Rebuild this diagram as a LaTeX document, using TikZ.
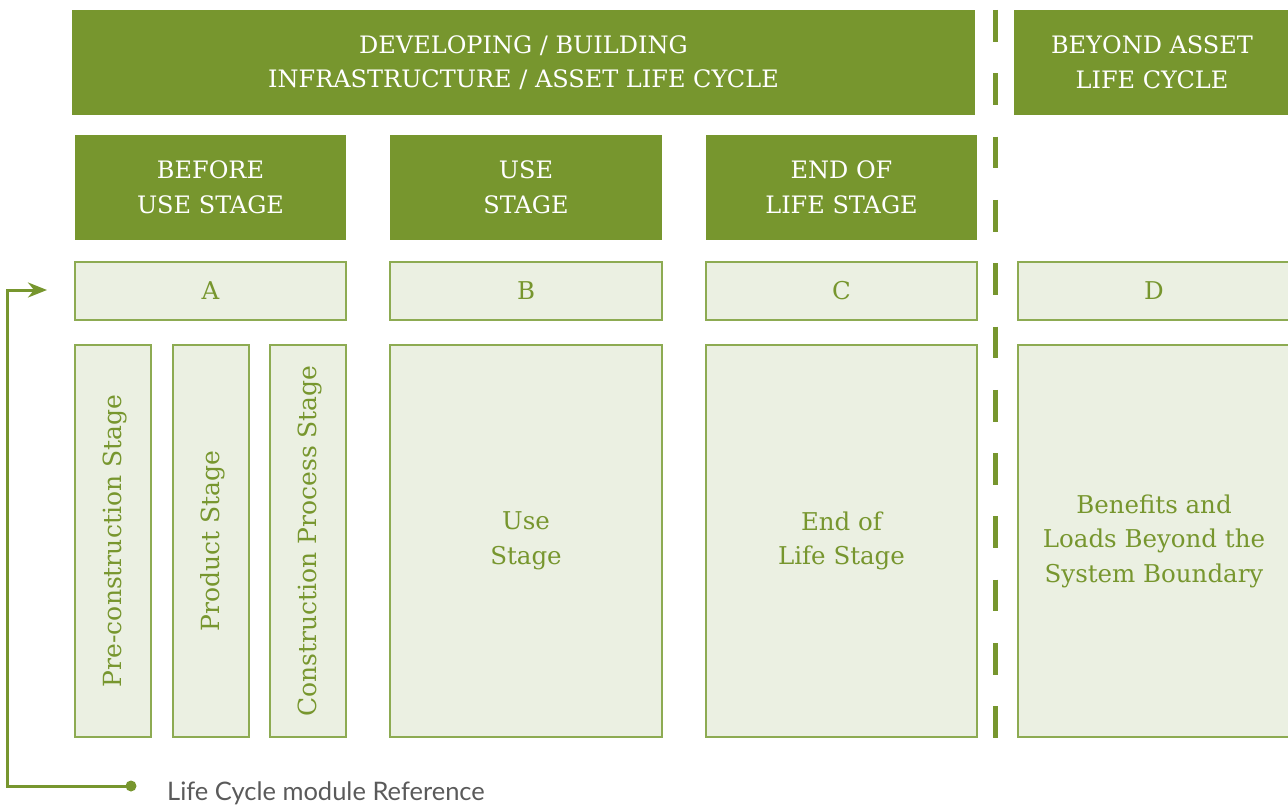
\documentclass[tikz,border=0pt]{standalone}
\usepackage{fontspec}
\usepackage{tikz}
\usetikzlibrary{arrows.meta}
\newfontfamily\slab{DejaVu Serif}
\newfontfamily\plainsans{Lato}
\definecolor{leaf}{RGB}{119,150,46}
\definecolor{pale}{RGB}{235,240,226}
\definecolor{edge}{RGB}{141,171,82}
\definecolor{ink}{RGB}{90,90,90}
\tikzset{%
    headbox/.style={%
        fill=leaf, draw=none, text=white, anchor=north west,
        inner sep=0pt, outer sep=0pt, align=center,
        font=\slab\fontsize{24}{34.5}\selectfont},
    modbox/.style={%
        fill=pale, draw=edge, line width=1.5pt, text=leaf, anchor=north west,
        inner sep=0pt, outer sep=0pt, align=center,
        font=\slab\fontsize{24.5}{34.5}\selectfont},
    sidetext/.style={rotate=90, text=leaf, font=\slab\fontsize{25}{34.5}\selectfont},
    fence/.style={draw=leaf, line width=5pt, dash pattern=on 31.7pt off 31.6pt},
    flow/.style={draw=leaf, line width=3pt, -{Stealth[length=19pt,width=15pt,inset=6pt]}}
}

\begin{document}
\begin{tikzpicture}[x=1pt,y=-1pt]
    \useasboundingbox (0,0) rectangle (1288,805);
    % top row
    \node[headbox, minimum width=903, minimum height=105] (dev) at (72,10)
        {DEVELOPING / BUILDING\\INFRASTRUCTURE / ASSET LIFE CYCLE};
    \node[headbox, minimum width=276, minimum height=105] (beyond) at (1014,10)
        {BEYOND ASSET\\LIFE CYCLE};
    % stage headers
    \node[headbox, minimum width=271, minimum height=105] (before) at (75,135) {BEFORE\\USE STAGE};
    \node[headbox, minimum width=272, minimum height=105] (use) at (390,135) {USE\\STAGE};
    \node[headbox, minimum width=271, minimum height=105] (end) at (706,135) {END OF\\LIFE STAGE};
    % module letters
    \node[modbox, minimum width=271, minimum height=58] (A) at (75,262) {A};
    \node[modbox, minimum width=272, minimum height=58] (B) at (390,262) {B};
    \node[modbox, minimum width=271, minimum height=58] (C) at (706,262) {C};
    \node[modbox, minimum width=272, minimum height=58] (D) at (1018,262) {D};
    % modules
    \node[modbox, minimum width=76, minimum height=392] (pre) at (75,345) {};
    \node[modbox, minimum width=76, minimum height=392] (prod) at (173,345) {};
    \node[modbox, minimum width=76, minimum height=392] (cons) at (270,345) {};
    \node[sidetext] (pretext) at ([xshift=2pt]pre.center) {Pre-construction Stage};
    \node[sidetext] (prodtext) at ([xshift=2pt]prod.center) {Product Stage};
    \node[sidetext] (constext) at ([xshift=2pt]cons.center) {Construction Process Stage};
    \node[modbox, minimum width=272, minimum height=392] (usemod) at (390,345) {Use\\Stage};
    \node[modbox, minimum width=271, minimum height=392] (endmod) at (706,345) {End of\\Life Stage};
    \node[modbox, minimum width=272, minimum height=392] (benefit) at (1018,345)
        {Benefits and\\Loads Beyond the\\System Boundary};
    % boundary
    \draw[fence] (995,10) -- (995,738);
    % legend
    \fill[leaf] (131,786) circle (5.5pt);
    \node[inner sep=0pt] (dot) at (131,786) {};
    \coordinate (aim) at (47,290);
    \draw[flow] (dot.center) -- ++(-124,0) |- (aim);
    \node[anchor=base west, inner sep=0pt, text=ink, font=\plainsans\fontsize{25.5}{30}\selectfont] (legend) at (167,800)
        {Life Cycle module Reference};
\end{tikzpicture}
\end{document}
